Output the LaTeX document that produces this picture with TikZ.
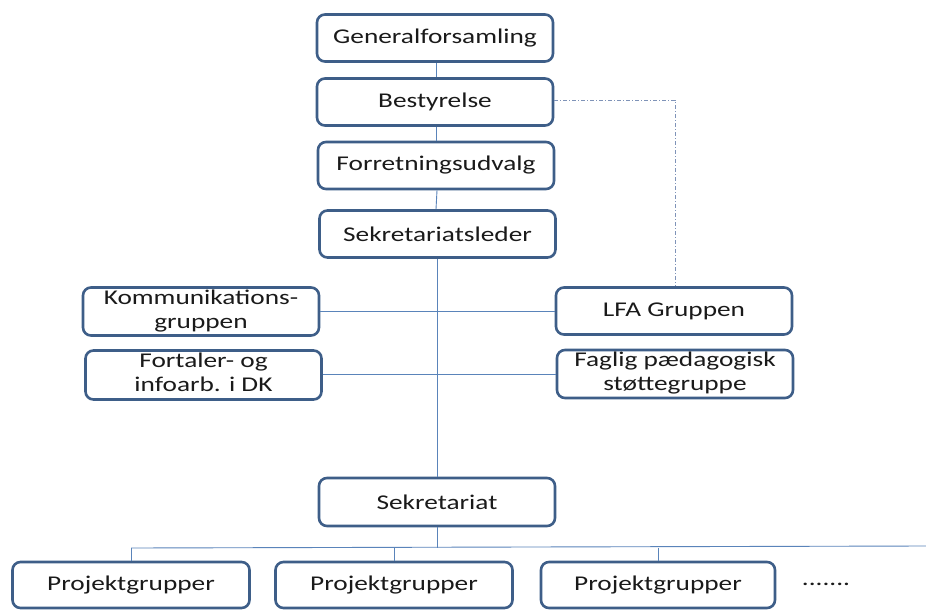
\documentclass[tikz,border=0pt]{standalone}
\usepackage{fontspec}
\setmainfont[FakeStretch=1.3]{Carlito}
\definecolor{boxline}{HTML}{3E5E88}
\definecolor{conn}{HTML}{5A84BA}
\definecolor{dashc}{HTML}{7F93B8}
\definecolor{txt}{HTML}{1A1A1A}
\begin{document}
\begin{tikzpicture}[x=1pt,y=-1pt,
  orgbox/.style={draw=boxline, line width=2.6pt, rounded corners=8pt, fill=white,
    minimum width=236pt, minimum height=47pt, inner sep=0pt, align=center, text=txt,
    font=\fontsize{21}{24}\selectfont},
  twoline/.style={text depth=0pt},
  link/.style={draw=conn, line width=0.9pt},
  dashlink/.style={draw=dashc, line width=0.9pt, dash pattern=on 4pt off 2pt on 1pt off 2pt}]
\useasboundingbox[fill=white] (0,0) rectangle (926,610);
\node[orgbox] (gen) at (435,38) {Generalforsamling};
\node[orgbox] (best) at (435,102) {Bestyrelse};
\node[orgbox] (forr) at (436,165.5) {Forretningsudvalg};
\node[orgbox] (sekl) at (437.5,234) {Sekretariatsleder};
\node[orgbox] (komm) at (201,311.5) {\raisebox{-2pt}{\begin{tabular}{@{}c@{}}Kommunikations-\\gruppen\end{tabular}}};
\node[orgbox] (lfa) at (674,311) {LFA Gruppen};
\node[orgbox, minimum height=49pt] (fort) at (203.5,375) {\raisebox{-2pt}{\begin{tabular}{@{}c@{}}Fortaler- og\\infoarb. i DK\end{tabular}}};
\node[orgbox] (fag) at (675,374) {\raisebox{-1pt}{\begin{tabular}{@{}c@{}}Faglig pædagogisk\\støttegruppe\end{tabular}}};
\node[orgbox, minimum height=48pt] (sek) at (437,502) {Sekretariat};
\node[orgbox, minimum width=237pt, minimum height=46pt] (p1) at (131,585) {Projektgrupper};
\node[orgbox, minimum width=237pt, minimum height=46pt] (p2) at (394,585) {Projektgrupper};
\node[orgbox, minimum width=234pt, minimum height=46pt] (p3) at (658,585) {Projektgrupper};
\node[font=\fontsize{21}{24}\selectfont, text=txt, inner sep=0pt] (dots) at (826,584) {.......};
\coordinate (bj) at (437,548);
\coordinate (bl) at (131,548);
\coordinate (br) at (926,546);
\coordinate (dc) at (675,100);
\draw[link] ([xshift=1pt]gen.south) -- ([xshift=1pt]best.north);
\draw[link] ([xshift=1pt]best.south) -- (forr.north);
\draw[link] ([xshift=1pt]forr.south) -- (forr.south |- sekl.north);
\draw[link] (sekl.south) -- (sekl.south |- sek.north);
\draw[link] (komm.east) -- (lfa.west |- komm.east);
\draw[link] (fort.east |- fag.west) -- (fag.west);
\draw[link] (sek.south) -- (bj);
\draw[link] (bl) -- (br);
\draw[link] (bl) -- (p1.north);
\draw[link] (p2.north |- bj) -- (p2.north);
\draw[link] (p3.north |- bj) -- (p3.north);
\draw[dashlink] (best.east |- dc) -- (dc) -- (lfa.north -| dc);
\end{tikzpicture}
\end{document}
